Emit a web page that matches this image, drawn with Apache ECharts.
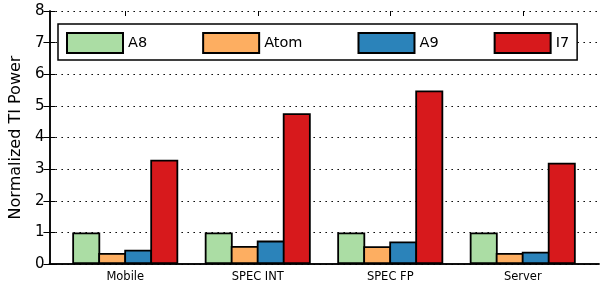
<!DOCTYPE html>
<html lang="en">
<head>
	<meta charset="utf-8">
	<title>Normalized TI Power</title>
	<script src="https://cdnjs.cloudflare.com/ajax/libs/echarts/6.0.0/echarts.min.js"></script>
	<style>
		html, body { margin: 0; padding: 0; background: #fff; }
		#chart { width: 600px; height: 286px; }
	</style>
</head>
<body>
<div id="chart"></div>
<script>
    var categories = ['Mobile', 'SPEC INT', 'SPEC FP', 'Server'];
    var a8 = [1.0, 1.0, 1.0, 1.0];
    var atom = [0.35, 0.57, 0.56, 0.35];
    var a9 = [0.45, 0.74, 0.71, 0.39];
    var i7 = [3.3, 4.77, 5.49, 3.2];
    var yTicks = [0, 1, 2, 3, 4, 5, 6, 7, 8];

    var font = 'DejaVu Sans';
    var chart = echarts.init(document.getElementById('chart'));

    // bars touch each other in the original, so overlap a little to hide the border gap
    function bar(name, color, data) {
        return {
            name: name,
            type: 'bar',
            xAxisIndex: 2,
            yAxisIndex: 2,
            data: data,
            barGap: '-7%',
            barCategoryGap: '20%',
            itemStyle: { color: color, borderColor: '#000', borderWidth: 1.8 }
        };
    }

    var frameAxis = {
        axisLine: { show: true, lineStyle: { color: '#000', width: 1.5 } },
        axisTick: { show: false },
        axisLabel: { show: false },
        splitLine: { show: false }
    };

    var option = {
        animation: false,
        textStyle: { fontFamily: font },
        legend: {
            left: 58,
            top: 24,
            padding: [8, 8, 6, 8],
            icon: 'rect',
            itemWidth: 56,
            itemHeight: 20,
            itemGap: 55,
            borderColor: '#000',
            borderWidth: 1.5,
            backgroundColor: '#fff',
            textStyle: { fontFamily: font, fontSize: 14.5, color: '#000' },
            data: ['A8', 'Atom', 'A9', 'I7']
        },
        grid: [
            { left: 45, right: 1, top: 11, bottom: 22 },
            { left: 59, right: 11, top: 11, bottom: 22 }
        ],
        xAxis: [
            Object.assign({ type: 'value', gridIndex: 0, min: 0, max: 1, position: 'bottom' }, frameAxis),
            Object.assign({ type: 'value', gridIndex: 0, min: 0, max: 1, position: 'top' }, frameAxis),
            {
                type: 'category',
                gridIndex: 1,
                position: 'bottom',
                data: categories,
                axisLine: { show: false },
                axisTick: { show: false },
                axisLabel: { fontFamily: font, fontSize: 11.5, color: '#000', margin: 7 }
            },
            {
                type: 'category',
                gridIndex: 1,
                position: 'top',
                data: categories,
                axisLine: { show: false },
                axisTick: { show: true, inside: true, alignWithLabel: true, length: 5, lineStyle: { color: '#000', width: 1 } },
                axisLabel: { show: false }
            }
        ],
        yAxis: [
            {
                type: 'value',
                gridIndex: 0,
                position: 'left',
                min: yTicks[0],
                max: yTicks[yTicks.length - 1],
                interval: 1,
                name: 'Normalized TI Power',
                nameLocation: 'middle',
                nameGap: 22,
                nameTextStyle: { fontFamily: font, fontSize: 16, color: '#000' },
                axisLine: { show: true, lineStyle: { color: '#000', width: 1.5 } },
                axisTick: { show: true, inside: true, length: 6, lineStyle: { color: '#000', width: 1 } },
                axisLabel: { fontFamily: font, fontSize: 15, color: '#000', margin: 5 },
                splitLine: { show: true, lineStyle: { color: '#000', width: 1.2, type: [1.5, 4.5] } }
            },
            {
                type: 'value',
                gridIndex: 0,
                position: 'right',
                min: yTicks[0],
                max: yTicks[yTicks.length - 1],
                interval: 1,
                axisLine: { show: true, lineStyle: { color: '#000', width: 1.5 } },
                axisTick: { show: true, inside: true, length: 6, lineStyle: { color: '#000', width: 1 } },
                axisLabel: { show: false },
                splitLine: { show: false }
            },
            {
                type: 'value',
                gridIndex: 1,
                min: yTicks[0],
                max: yTicks[yTicks.length - 1],
                interval: 1,
                axisLine: { show: false },
                axisTick: { show: false },
                axisLabel: { show: false },
                splitLine: { show: false }
            }
        ],
        series: [
            bar('A8', '#abdda4', a8),
            bar('Atom', '#fdae61', atom),
            bar('A9', '#2b83ba', a9),
            bar('I7', '#d7191c', i7)
        ]
    };

    chart.setOption(option);
</script>
</body>
</html>
